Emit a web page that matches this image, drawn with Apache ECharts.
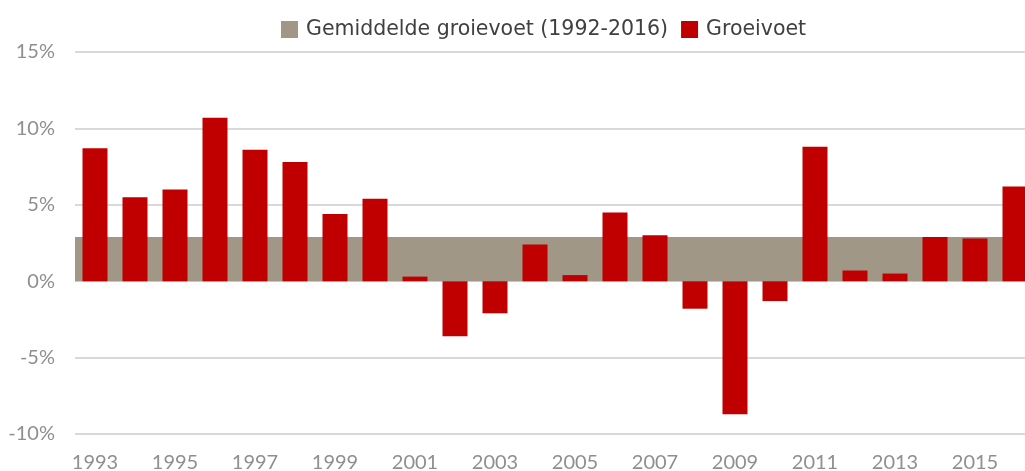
<!DOCTYPE html>
<html>
<head>
<meta charset="utf-8">
<script src="https://cdn.jsdelivr.net/npm/echarts@6/dist/echarts.min.js"></script>
<style>
  html, body { margin: 0; padding: 0; background: #fff; }
  #chart { width: 1025px; height: 471px; }
</style>
</head>
<body>
<div id="chart"></div>
<script>
// data
const years = ['1993','1994','1995','1996','1997','1998','1999','2000','2001','2002','2003','2004',
               '2005','2006','2007','2008','2009','2010','2011','2012','2013','2014','2015','2016'];
const groeivoet = [8.7, 5.5, 6.0, 10.7, 8.6, 7.8, 4.4, 5.4, 0.3, -3.6, -2.1, 2.4,
                   0.4, 4.5, 3.0, -1.8, -8.7, -1.3, 8.8, 0.7, 0.5, 2.9, 2.8, 6.2];
const gemiddelde = 2.9;
const yTicks = { min: -10, max: 15, step: 5 };

const labelFont = 'Lato';
let chart = echarts.init(document.getElementById('chart'));
let option = {
  animation: false,
  legend: {
    top: 14,
    left: 276,
    itemWidth: 17,
    itemHeight: 17,
    itemGap: 13,
    icon: 'rect',
    textStyle: { fontFamily: 'DejaVu Sans', fontSize: 20.5, color: '#404040', padding: [0, 0, 0, 3] },
    data: ['Gemiddelde groievoet (1992-2016)', 'Groeivoet']
  },
  // plot runs past the right edge of the picture, last bar is cut off
  grid: { left: 75, width: 960, top: 52, bottom: 37, outerBoundsMode: 'none' },
  xAxis: {
    type: 'category',
    data: years,
    axisLine: { show: false },
    axisTick: { show: false },
    axisLabel: { interval: 1, margin: 19, fontFamily: labelFont, fontSize: 20, color: '#8f8f8f' }
  },
  yAxis: {
    type: 'value',
    min: yTicks.min,
    max: yTicks.max,
    interval: yTicks.step,
    axisLabel: { formatter: '{value}%', margin: 20, fontFamily: labelFont, fontSize: 20, color: '#8f8f8f' },
    splitLine: { lineStyle: { color: '#d9d9d9', width: 2 } }
  },
  series: [
    {
      name: 'Gemiddelde groievoet (1992-2016)',
      type: 'bar',
      data: [],
      itemStyle: { color: '#A19786' },
      markArea: {
        silent: true,
        itemStyle: { color: '#A19786', opacity: 1 },
        data: [[{ yAxis: 0 }, { yAxis: gemiddelde }]]
      }
    },
    {
      name: 'Groeivoet',
      type: 'bar',
      data: groeivoet,
      barWidth: 25,
      barGap: '-100%',
      itemStyle: { color: '#C00000' }
    }
  ]
};
chart.setOption(option);
</script>
</body>
</html>
